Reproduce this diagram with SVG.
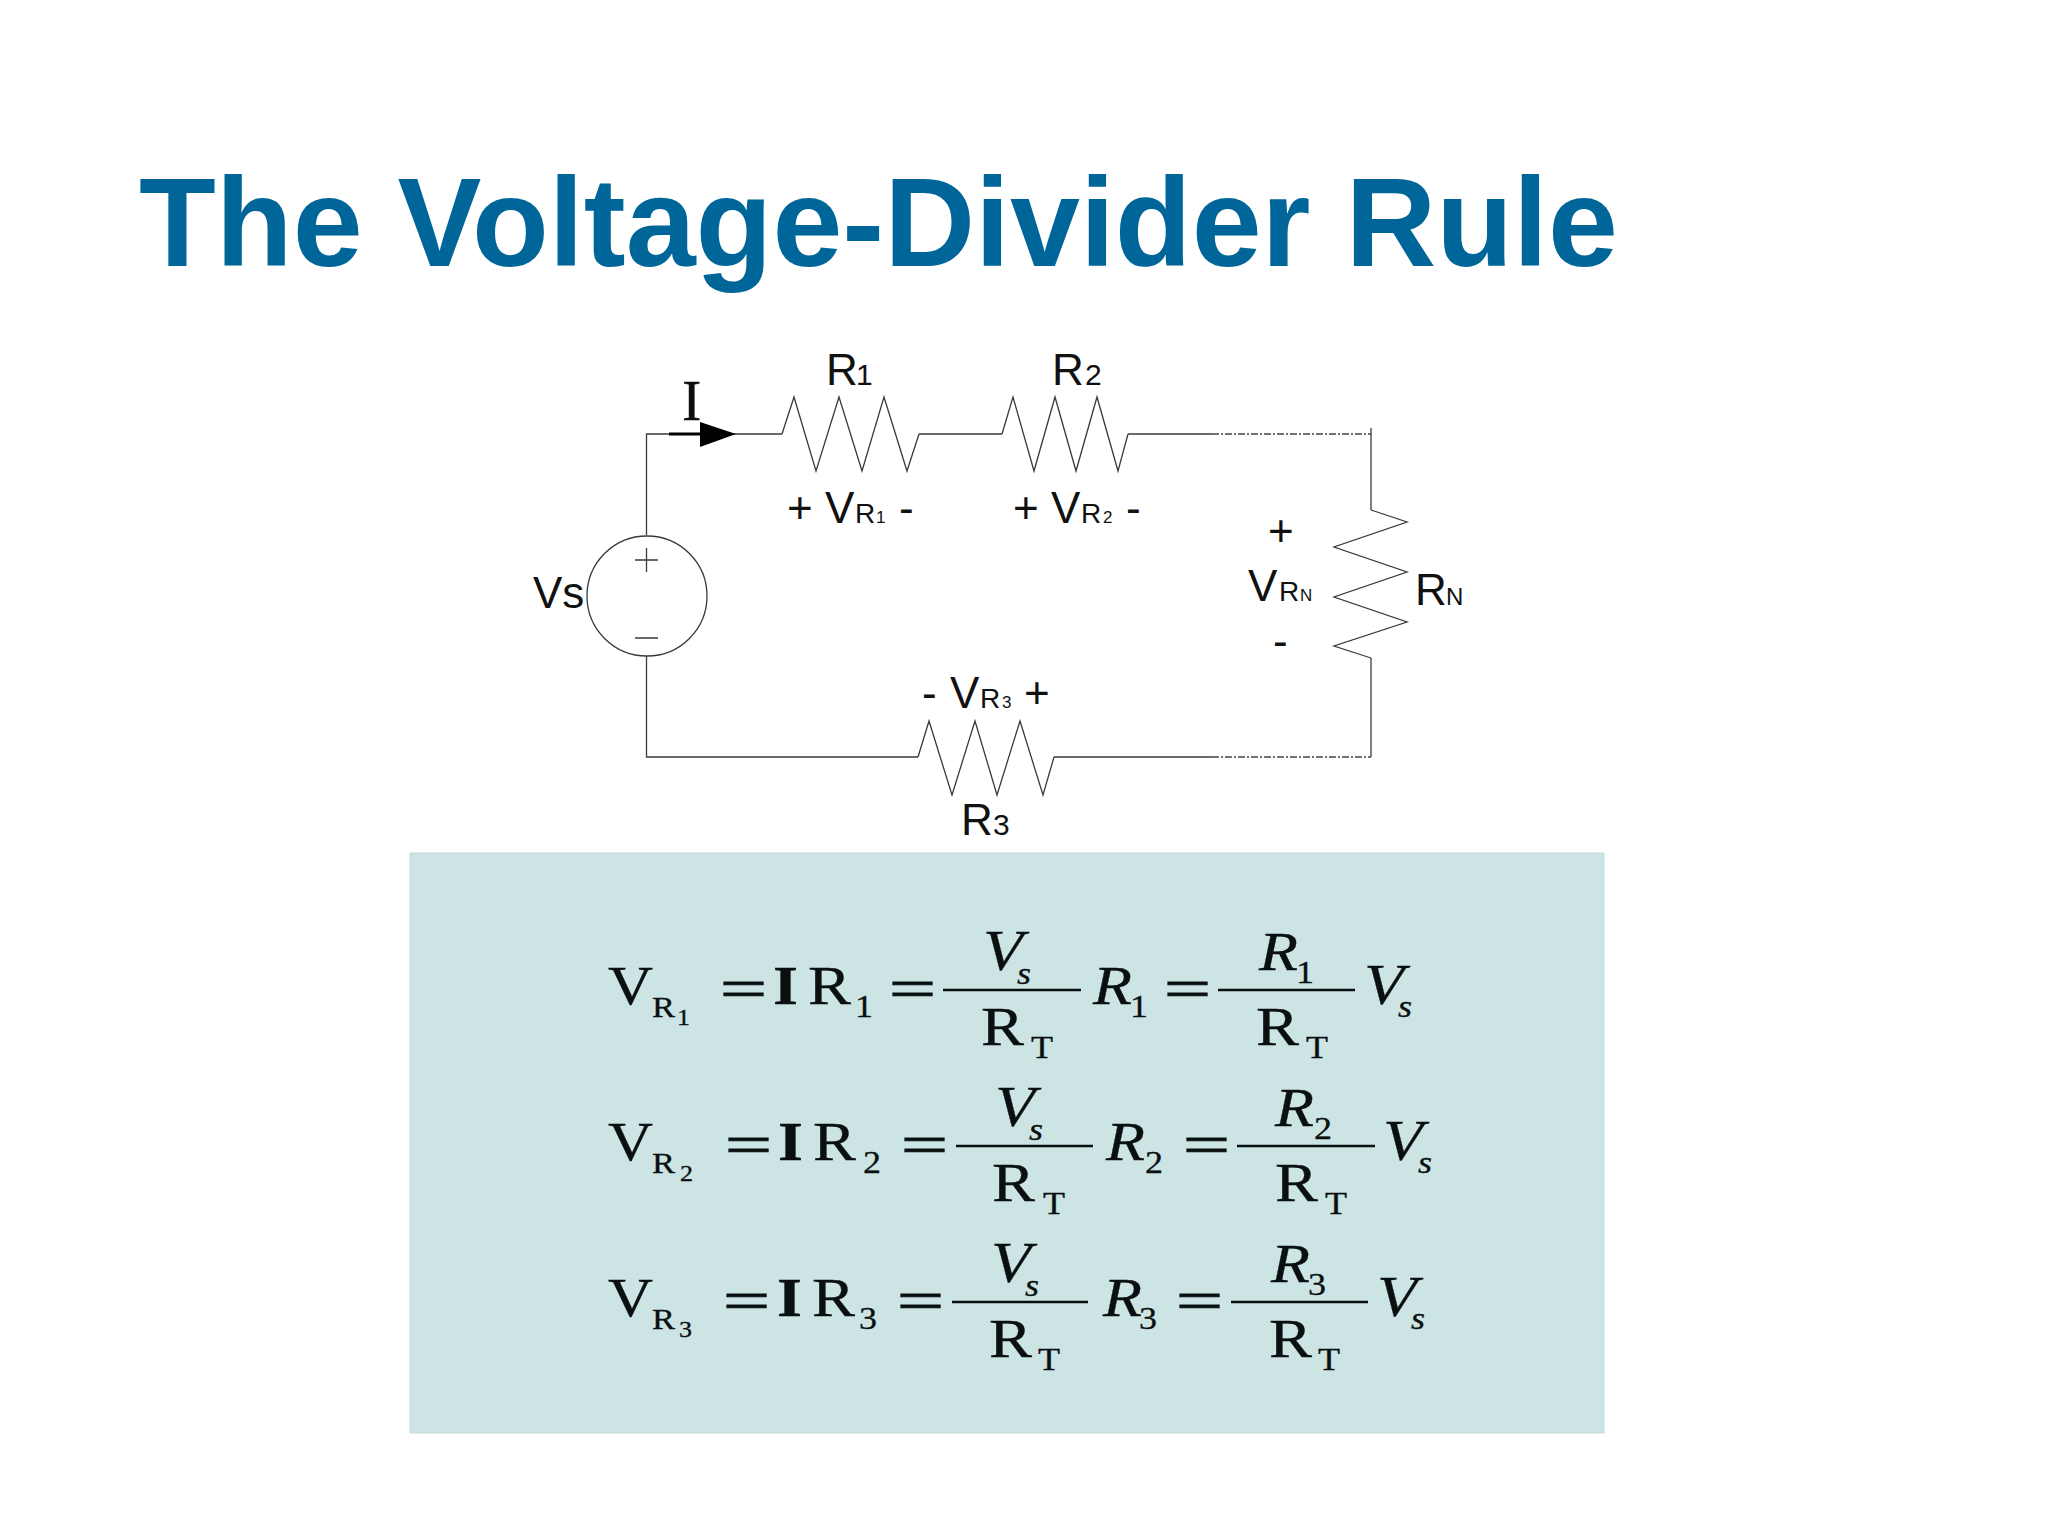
<svg xmlns="http://www.w3.org/2000/svg" width="2048" height="1536" viewBox="0 0 2048 1536">
<style>
.w{fill:none;stroke:#3a3a3a;stroke-width:1.3}
.d{fill:none;stroke:#444;stroke-width:1.3;stroke-dasharray:7 2 2 2}
.a{font-family:"Liberation Sans",Arial,sans-serif;fill:#111}
.a44{font-size:44px}.a28{font-size:28px}.a30{font-size:30px}.a17{font-size:17px}
.t{font-family:"Liberation Sans",Arial,sans-serif;font-weight:bold;font-size:127px;fill:#006699}
.s{font-family:"Liberation Serif","Times New Roman",serif;fill:#0a0f10;stroke:#0a0f10;stroke-width:.3}
.i{font-style:italic}.b{font-weight:bold}
.f57{font-size:57px}.f54{font-size:54px}.f32{font-size:32px}.f30{font-size:30px}.f23{font-size:23px}
.e{stroke-width:1}
.fr{fill:none;stroke:#0a0f10;stroke-width:2.4}
</style>
<rect width="2048" height="1536" fill="#fff"/>
<g id="title"><text class="t" x="139" y="266" textLength="1479" lengthAdjust="spacingAndGlyphs">The Voltage-Divider Rule</text></g>
<g id="connectors">
<path class="w" d="M646.5 535V434H782M919 434H1002M1128 434H1212M646.5 656V757H918M1054 757H1212M1371 428V510M1371 658V757"/>
<path class="d" d="M1212 434H1371M1212 757H1371"/>
<path d="M669 434H702" fill="none" stroke="#000" stroke-width="3"/>
<path d="M700 422L736 434L700 447Z" fill="#000"/>
<text class="s" x="682" y="420" font-size="58">I</text>
</g>
<g id="vs">
<circle class="w" cx="647" cy="596" r="60"/>
<path class="w" d="M635 560H658M646.5 548V572M635 638H658"/>
<text class="a a44" x="533" y="608">Vs</text>
</g>
<g id="r1">
<path class="w" d="M782 434L794 397L816 471L839 397L862 471L884 397L907 471L919 434"/>
<text class="a a44" x="826" y="385">R</text><text class="a a30" x="856" y="385">1</text>
<text class="a a44" x="787" y="523">+</text><text class="a a44" x="825" y="523">V</text><text class="a a28" x="855" y="523">R</text><text class="a a17" x="876" y="523">1</text><text class="a a44" x="899" y="523">-</text>
</g>
<g id="r2">
<path class="w" d="M1002 434L1013 397L1034 471L1055 397L1076 471L1097 397L1118 471L1128 434"/>
<text class="a a44" x="1052" y="385">R</text><text class="a a30" x="1085" y="385">2</text>
<text class="a a44" x="1013" y="523">+</text><text class="a a44" x="1051" y="523">V</text><text class="a a28" x="1081" y="523">R</text><text class="a a17" x="1103" y="523">2</text><text class="a a44" x="1126" y="523">-</text>
</g>
<g id="rn">
<path class="w" d="M1371 510L1407 522L1334 547L1407 572L1334 597L1407 622L1334 646L1371 658"/>
<text class="a a44" x="1268" y="546">+</text><text class="a a44" x="1248" y="601">V</text><text class="a a28" x="1279" y="601">R</text><text class="a a17" x="1300" y="601">N</text><text class="a a44" x="1273" y="656">-</text>
<text class="a a44" x="1415" y="605">R</text><text class="a" font-size="24" x="1446" y="605">N</text>
</g>
<g id="r3">
<path class="w" d="M918 757L929 721L952 795L975 721L997 795L1020 721L1043 795L1054 757"/>
<text class="a a44" x="922" y="708">-</text><text class="a a44" x="950" y="708">V</text><text class="a a28" x="980" y="708">R</text><text class="a a17" x="1002" y="708">3</text><text class="a a44" x="1024" y="708">+</text>
<text class="a a44" x="961" y="835">R</text><text class="a a30" x="993" y="835">3</text>
</g>
<g id="equations">
<rect x="410" y="853" width="1194" height="580" fill="#cce4e4" stroke="#c4dcdc"/>
<g id="eq1">
<text class="s f54" x="608" y="1004" textLength="45" lengthAdjust="spacingAndGlyphs">V</text>
<text class="s f30" x="652" y="1017" textLength="23" lengthAdjust="spacingAndGlyphs">R</text>
<text class="s f23" x="677" y="1025" textLength="13" lengthAdjust="spacingAndGlyphs">1</text>
<text class="s e f54" x="720" y="1007" textLength="47" lengthAdjust="spacingAndGlyphs">=</text>
<text class="s b f54" x="773" y="1004" textLength="25" lengthAdjust="spacingAndGlyphs">I</text>
<text class="s f54" x="808" y="1004" textLength="43" lengthAdjust="spacingAndGlyphs">R</text>
<text class="s f32" x="855" y="1017" textLength="18" lengthAdjust="spacingAndGlyphs">1</text>
<text class="s e f54" x="889" y="1007" textLength="47" lengthAdjust="spacingAndGlyphs">=</text>
<path class="fr" d="M943 990H1081"/>
<text class="s i f57" x="983" y="970" textLength="40" lengthAdjust="spacingAndGlyphs">V</text>
<text class="s i f32" x="1017" y="984" textLength="14" lengthAdjust="spacingAndGlyphs">s</text>
<text class="s f54" x="981" y="1045" textLength="43" lengthAdjust="spacingAndGlyphs">R</text>
<text class="s f32" x="1031" y="1058" textLength="22" lengthAdjust="spacingAndGlyphs">T</text>
<text class="s i f54" x="1093" y="1004" textLength="39" lengthAdjust="spacingAndGlyphs">R</text>
<text class="s f32" x="1130" y="1017" textLength="18" lengthAdjust="spacingAndGlyphs">1</text>
<text class="s e f54" x="1164" y="1007" textLength="47" lengthAdjust="spacingAndGlyphs">=</text>
<path class="fr" d="M1218 990H1355"/>
<text class="s i f54" x="1259" y="970" textLength="39" lengthAdjust="spacingAndGlyphs">R</text>
<text class="s f32" x="1296" y="983" textLength="18" lengthAdjust="spacingAndGlyphs">1</text>
<text class="s f54" x="1256" y="1045" textLength="43" lengthAdjust="spacingAndGlyphs">R</text>
<text class="s f32" x="1306" y="1058" textLength="22" lengthAdjust="spacingAndGlyphs">T</text>
<text class="s i f57" x="1364" y="1004" textLength="40" lengthAdjust="spacingAndGlyphs">V</text>
<text class="s i f32" x="1398" y="1017" textLength="14" lengthAdjust="spacingAndGlyphs">s</text>
</g>
<g id="eq2">
<text class="s f54" x="608" y="1160" textLength="45" lengthAdjust="spacingAndGlyphs">V</text>
<text class="s f30" x="652" y="1173" textLength="23" lengthAdjust="spacingAndGlyphs">R</text>
<text class="s f23" x="680" y="1181" textLength="13" lengthAdjust="spacingAndGlyphs">2</text>
<text class="s e f54" x="725" y="1163" textLength="47" lengthAdjust="spacingAndGlyphs">=</text>
<text class="s b f54" x="778" y="1160" textLength="25" lengthAdjust="spacingAndGlyphs">I</text>
<text class="s f54" x="813" y="1160" textLength="43" lengthAdjust="spacingAndGlyphs">R</text>
<text class="s f32" x="863" y="1173" textLength="18" lengthAdjust="spacingAndGlyphs">2</text>
<text class="s e f54" x="901" y="1163" textLength="47" lengthAdjust="spacingAndGlyphs">=</text>
<path class="fr" d="M956 1146H1093"/>
<text class="s i f57" x="995" y="1126" textLength="40" lengthAdjust="spacingAndGlyphs">V</text>
<text class="s i f32" x="1029" y="1140" textLength="14" lengthAdjust="spacingAndGlyphs">s</text>
<text class="s f54" x="992" y="1201" textLength="43" lengthAdjust="spacingAndGlyphs">R</text>
<text class="s f32" x="1043" y="1214" textLength="22" lengthAdjust="spacingAndGlyphs">T</text>
<text class="s i f54" x="1106" y="1160" textLength="39" lengthAdjust="spacingAndGlyphs">R</text>
<text class="s f32" x="1145" y="1173" textLength="18" lengthAdjust="spacingAndGlyphs">2</text>
<text class="s e f54" x="1183" y="1163" textLength="47" lengthAdjust="spacingAndGlyphs">=</text>
<path class="fr" d="M1237 1146H1375"/>
<text class="s i f54" x="1275" y="1126" textLength="39" lengthAdjust="spacingAndGlyphs">R</text>
<text class="s f32" x="1314" y="1139" textLength="18" lengthAdjust="spacingAndGlyphs">2</text>
<text class="s f54" x="1275" y="1201" textLength="43" lengthAdjust="spacingAndGlyphs">R</text>
<text class="s f32" x="1325" y="1214" textLength="22" lengthAdjust="spacingAndGlyphs">T</text>
<text class="s i f57" x="1383" y="1160" textLength="40" lengthAdjust="spacingAndGlyphs">V</text>
<text class="s i f32" x="1418" y="1173" textLength="14" lengthAdjust="spacingAndGlyphs">s</text>
</g>
<g id="eq3">
<text class="s f54" x="608" y="1316" textLength="45" lengthAdjust="spacingAndGlyphs">V</text>
<text class="s f30" x="652" y="1329" textLength="23" lengthAdjust="spacingAndGlyphs">R</text>
<text class="s f23" x="679" y="1337" textLength="13" lengthAdjust="spacingAndGlyphs">3</text>
<text class="s e f54" x="723" y="1319" textLength="47" lengthAdjust="spacingAndGlyphs">=</text>
<text class="s b f54" x="777" y="1316" textLength="25" lengthAdjust="spacingAndGlyphs">I</text>
<text class="s f54" x="812" y="1316" textLength="43" lengthAdjust="spacingAndGlyphs">R</text>
<text class="s f32" x="859" y="1329" textLength="18" lengthAdjust="spacingAndGlyphs">3</text>
<text class="s e f54" x="897" y="1319" textLength="47" lengthAdjust="spacingAndGlyphs">=</text>
<path class="fr" d="M952 1302H1088"/>
<text class="s i f57" x="991" y="1282" textLength="40" lengthAdjust="spacingAndGlyphs">V</text>
<text class="s i f32" x="1025" y="1296" textLength="14" lengthAdjust="spacingAndGlyphs">s</text>
<text class="s f54" x="989" y="1357" textLength="43" lengthAdjust="spacingAndGlyphs">R</text>
<text class="s f32" x="1038" y="1370" textLength="22" lengthAdjust="spacingAndGlyphs">T</text>
<text class="s i f54" x="1103" y="1316" textLength="39" lengthAdjust="spacingAndGlyphs">R</text>
<text class="s f32" x="1139" y="1329" textLength="18" lengthAdjust="spacingAndGlyphs">3</text>
<text class="s e f54" x="1176" y="1319" textLength="47" lengthAdjust="spacingAndGlyphs">=</text>
<path class="fr" d="M1231 1302H1368"/>
<text class="s i f54" x="1271" y="1282" textLength="39" lengthAdjust="spacingAndGlyphs">R</text>
<text class="s f32" x="1308" y="1295" textLength="18" lengthAdjust="spacingAndGlyphs">3</text>
<text class="s f54" x="1269" y="1357" textLength="43" lengthAdjust="spacingAndGlyphs">R</text>
<text class="s f32" x="1318" y="1370" textLength="22" lengthAdjust="spacingAndGlyphs">T</text>
<text class="s i f57" x="1377" y="1316" textLength="40" lengthAdjust="spacingAndGlyphs">V</text>
<text class="s i f32" x="1411" y="1329" textLength="14" lengthAdjust="spacingAndGlyphs">s</text>
</g>
</g>
</svg>
